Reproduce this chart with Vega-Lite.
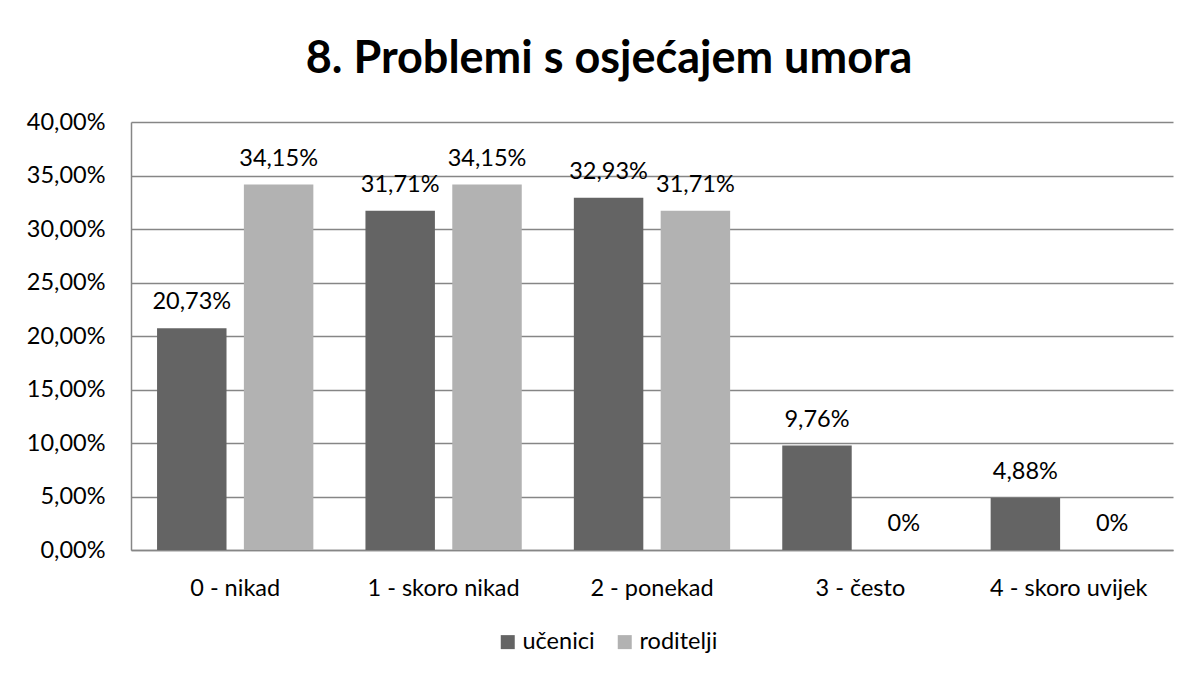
{
  "$schema": "https://vega.github.io/schema/vega-lite/v6.json",
  "autosize": {"type": "none"},
  "padding": {"left": 131, "top": 122, "right": 16, "bottom": 125},
  "width": 1042,
  "height": 428,
  "background": "white",
  "config": {
    "locale": {"number": {"decimal": ",", "thousands": ".", "grouping": [3], "currency": ["", " kn"]}},
    "font": "Lato",
    "view": {"stroke": null}
  },
  "title": {
    "text": "8. Problemi s osjećajem umora",
    "font": "Lato",
    "fontSize": 45,
    "fontWeight": "bold",
    "color": "#000000",
    "anchor": "middle",
    "dx": -43,
    "offset": 28
  },
  "data": {
    "values": [
      {"kategorija": "0 - nikad", "skupina": "učenici", "value": 0.2073},
      {"kategorija": "0 - nikad", "skupina": "roditelji", "value": 0.3415},
      {"kategorija": "1 - skoro nikad", "skupina": "učenici", "value": 0.3171},
      {"kategorija": "1 - skoro nikad", "skupina": "roditelji", "value": 0.3415},
      {"kategorija": "2 - ponekad", "skupina": "učenici", "value": 0.3293},
      {"kategorija": "2 - ponekad", "skupina": "roditelji", "value": 0.3171},
      {"kategorija": "3 - često", "skupina": "učenici", "value": 0.0976},
      {"kategorija": "3 - često", "skupina": "roditelji", "value": 0},
      {"kategorija": "4 - skoro uvijek", "skupina": "učenici", "value": 0.0488},
      {"kategorija": "4 - skoro uvijek", "skupina": "roditelji", "value": 0}
    ]
  },
  "encoding": {
    "x": {
      "field": "kategorija",
      "type": "nominal",
      "sort": null,
      "scale": {"paddingInner": 0.25, "paddingOuter": 0.125},
      "axis": {
        "title": null,
        "labelAngle": 0,
        "labelFontSize": 23.5,
        "labelColor": "#000000",
        "labelPadding": 26,
        "ticks": false,
        "domainColor": "#868686",
        "domainWidth": 1.5,
        "grid": false
      }
    },
    "xOffset": {
      "field": "skupina",
      "type": "nominal",
      "sort": ["učenici", "roditelji"],
      "scale": {"paddingInner": 0.2, "paddingOuter": 0}
    },
    "y": {
      "field": "value",
      "type": "quantitative",
      "scale": {"domain": [0, 0.4], "nice": false},
      "axis": {
        "title": null,
        "format": ".2%",
        "values": [0, 0.05, 0.1, 0.15, 0.2, 0.25, 0.3, 0.35, 0.4],
        "labelFontSize": 23.5,
        "labelColor": "#000000",
        "labelPadding": 26,
        "ticks": false,
        "domainColor": "#868686",
        "domainWidth": 1.5,
        "gridColor": "#868686",
        "gridWidth": 1.5
      }
    }
  },
  "layer": [
    {
      "mark": {"type": "bar"},
      "encoding": {
        "color": {
          "field": "skupina",
          "type": "nominal",
          "sort": ["učenici", "roditelji"],
          "scale": {"domain": ["učenici", "roditelji"], "range": ["#646464", "#b2b2b2"]},
          "legend": {
            "title": null,
            "orient": "none",
            "direction": "horizontal",
            "legendX": 365,
            "legendY": 508,
            "symbolType": "square",
            "symbolSize": 196,
            "symbolStrokeWidth": 0,
            "labelFontSize": 23.5,
            "labelColor": "#000000",
            "labelOffset": 3,
            "columnPadding": 18
          }
        }
      }
    },
    {
      "mark": {"type": "text", "baseline": "alphabetic", "dy": -19, "fontSize": 23.5, "color": "#000000"},
      "encoding": {
        "text": {
          "condition": {"test": "datum.value === 0", "value": "0%"},
          "field": "value",
          "type": "quantitative",
          "format": ".2%"
        }
      }
    }
  ]
}
